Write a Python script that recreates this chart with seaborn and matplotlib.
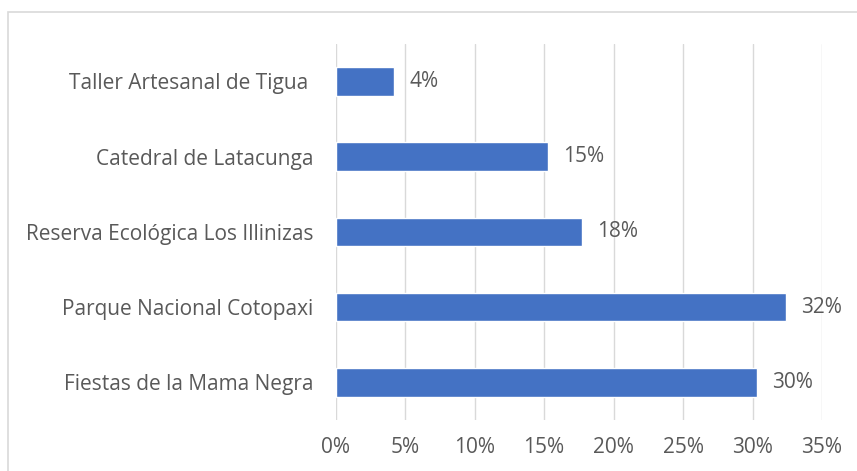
import numpy as np
import pandas as pd
import seaborn as sns
import matplotlib.pyplot as plt
from matplotlib.ticker import FuncFormatter
from matplotlib.patches import Rectangle

# lugares turisticos mas visitados
lugares = ['Taller Artesanal de Tigua ', 'Catedral de Latacunga', 'Reserva Ecológica Los Illinizas',
           'Parque Nacional Cotopaxi', 'Fiestas de la Mama Negra']
porcentaje = [4.2, 15.3, 17.7, 32.4, 30.3]
xticks = [0, 5, 10, 15, 20, 25, 30, 35]

df = pd.DataFrame({'lugar': lugares, 'pct': porcentaje})

sns.set_style('white')
plt.rcParams['font.family'] = ['Open Sans', 'DejaVu Sans']
gris = '#595959'

fig = plt.figure(figsize=(8.57, 4.71), dpi=100)
ax = fig.add_axes([0.3915, 0.1083, 0.9592 - 0.3915, 0.9074 - 0.1083])

sns.barplot(data=df, x='pct', y='lugar', orient='h', color='#4472C4', saturation=1,
            width=0.38, ax=ax)

ax.set_xlim(0, 35)
ax.set_xticks(xticks)
ax.xaxis.set_major_formatter(FuncFormatter(lambda v, p: f'{v:.0f}%'))
ax.grid(axis='x', color='#d9d9d9', linewidth=1)
ax.set_axisbelow(True)
for s in ax.spines.values():
    s.set_visible(False)
ax.set_xlabel('')
ax.set_ylabel('')
ax.tick_params(axis='both', length=0, labelsize=15, labelcolor=gris)
ax.tick_params(axis='y', pad=16)
ax.tick_params(axis='x', pad=12)

ax.bar_label(ax.containers[0], labels=[f'{v:.0f}%' for v in porcentaje],
             padding=11, fontsize=15, color=gris)

# marco del grafico
fig.patches.append(Rectangle((8 / 857, -0.1), 1.2, 1 - 12 / 471 + 0.1, transform=fig.transFigure,
                             fill=False, edgecolor='#d9d9d9', linewidth=1.2))

fig.savefig('out.png', dpi=100)
